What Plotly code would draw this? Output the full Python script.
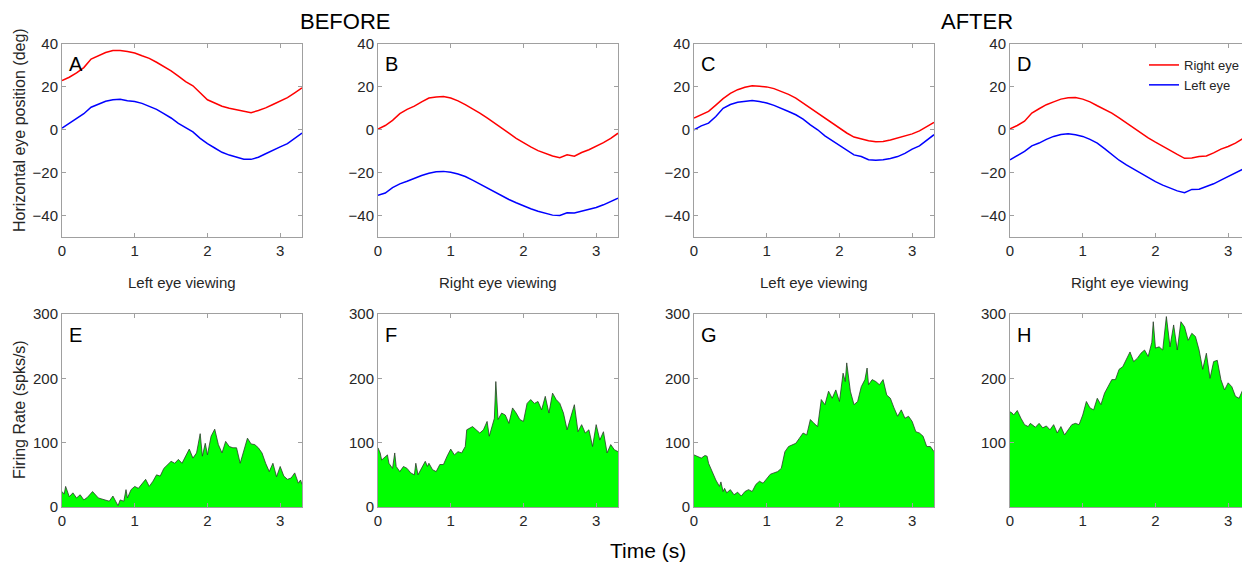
import plotly.graph_objects as go
from plotly.subplots import make_subplots

# ---------------- data ----------------
t_eye = [0.0, 0.1, 0.2, 0.3, 0.4, 0.5, 0.6, 0.7, 0.8, 0.9, 1.0, 1.1, 1.2, 1.3, 1.4, 1.5, 1.6,
         1.7, 1.8, 1.9, 2.0, 2.1, 2.2, 2.3, 2.4, 2.5, 2.6, 2.7, 2.8, 2.9, 3.0, 3.1, 3.2, 3.3]

A_right = [23, 24.5, 26.5, 29, 33, 34.5, 36, 37, 37, 36.5, 35.8, 34.5, 33.3, 31.5, 29.5, 27.5, 25,
           22.5, 20.5, 17, 14, 12.5, 11, 10, 9.3, 8.5, 8, 9, 10.2, 11.8, 13.3, 15, 17.2, 19.5]
A_left = [0.8, 3, 5, 7.5, 10.5, 12, 13.3, 14, 14.2, 13.5, 13.2, 12.3, 11, 9.5, 7.5, 5.5, 3,
          1, -1, -4, -6.5, -8.5, -10.5, -11.8, -12.8, -13.7, -13.8, -12.8, -11.2, -9.5, -8, -6.5, -4, -1.5]

B_right = [0.3, 2, 4.4, 7.5, 9.5, 11, 13, 14.8, 15.3, 15.5, 14.8, 13.5, 11.7, 9.8, 7.8, 5.5, 3,
           0.5, -1.6, -4, -6.2, -8, -9.7, -11, -12.2, -13, -11.7, -12.3, -10.6, -9.3, -7.8, -6, -4, -1.6]
B_left = [-30.5, -29.5, -27, -25.2, -24, -22.6, -21.3, -20.3, -19.6, -19.4, -19.8, -20.6, -21.8, -23.5,
          -25.3, -27.3, -29, -30.8, -32.5, -34, -35.5, -36.8, -38, -39, -39.8, -40, -38.7, -38.8, -38,
          -37.2, -36.2, -35, -33.5, -31.9]

C_right = [5.5, 7, 8.6, 11.5, 14.5, 17, 18.7, 19.8, 20.5, 20.3, 20, 19.2, 18, 16.5, 14.8, 12.5, 10.1,
           7.8, 5.5, 3, 1, -1.5, -3.4, -4.3, -5.1, -5.6, -5.5, -4.8, -3.9, -2.8, -1.9, -0.5, 1.5, 3.4]
C_left = [0, 1.8, 3.1, 6.2, 10, 11.8, 12.8, 13.4, 13.7, 13.2, 12.5, 11.4, 10.1, 8.5, 7, 5, 2.3,
          0, -2.8, -5, -7, -9.5, -11.7, -12.5, -14, -14.2, -14, -13.4, -12.5, -11, -9, -7.5, -5, -2.3]

D_right = [0.5, 2, 4, 7.8, 9.8, 11.7, 13, 14.3, 14.9, 15, 14.3, 13, 11.2, 9.5, 7.8, 5.5, 3.1,
           0.8, -1.6, -3.8, -5.8, -7.8, -9.7, -11.5, -13.3, -13.2, -12.5, -12.2, -10.8, -9, -7.8, -6.2, -4.2, -1.9]
D_left = [-14, -12, -10.1, -7.5, -6.2, -4.5, -3.1, -2.2, -1.9, -2.3, -3.1, -4.5, -6.2, -8.8, -11.7,
          -14.2, -16.4, -18.4, -20.3, -22.3, -24.2, -25.8, -27.3, -28.5, -29.3, -27.8, -27.7, -26.5,
          -25.2, -23.5, -21.8, -20, -18.4, -16]

E_t = [0, 0.03, 0.05, 0.1, 0.15, 0.2, 0.25, 0.3, 0.35, 0.42, 0.5, 0.55, 0.6, 0.65, 0.7, 0.77, 0.8,
       0.85, 0.88, 0.9, 0.95, 1.0, 1.05, 1.1, 1.15, 1.2, 1.25, 1.3, 1.35, 1.4, 1.45, 1.5, 1.55, 1.6,
       1.65, 1.7, 1.75, 1.8, 1.85, 1.9, 1.93, 1.97, 2.0, 2.05, 2.1, 2.15, 2.2, 2.25, 2.3, 2.35, 2.4,
       2.45, 2.5, 2.55, 2.6, 2.65, 2.7, 2.75, 2.8, 2.85, 2.9, 2.95, 3.0, 3.05, 3.1, 3.15, 3.2, 3.25,
       3.28, 3.3]
E_rate = [24, 20, 32, 16, 22, 14, 19, 11, 15, 24, 14, 12, 11, 9, 17, 2, 11, 9, 27, 14, 27, 32, 29,
          37, 43, 32, 40, 50, 48, 60, 66, 71, 68, 74, 68, 79, 90, 76, 84, 114, 79, 99, 81, 110, 121,
          97, 84, 102, 94, 92, 92, 68, 89, 107, 98, 97, 92, 84, 68, 55, 68, 47, 63, 48, 43, 45, 53,
          37, 42, 35]

F_t = [0, 0.03, 0.05, 0.1, 0.13, 0.15, 0.2, 0.23, 0.25, 0.3, 0.35, 0.4, 0.45, 0.5, 0.52, 0.55, 0.6,
       0.65, 0.68, 0.7, 0.75, 0.8, 0.85, 0.9, 0.95, 1.0, 1.05, 1.1, 1.15, 1.2, 1.22, 1.3, 1.35, 1.4,
       1.45, 1.5, 1.53, 1.6, 1.62, 1.65, 1.7, 1.75, 1.8, 1.85, 1.9, 1.95, 2.0, 2.05, 2.1, 2.15, 2.2,
       2.25, 2.3, 2.35, 2.4, 2.45, 2.5, 2.55, 2.6, 2.65, 2.7, 2.75, 2.8, 2.85, 2.9, 2.95, 3.0, 3.05,
       3.1, 3.15, 3.2, 3.25, 3.3]
F_rate = [92, 84, 73, 79, 81, 68, 60, 84, 63, 55, 63, 60, 53, 50, 68, 50, 60, 71, 63, 68, 58, 55,
          66, 66, 79, 90, 81, 86, 84, 94, 120, 125, 120, 115, 120, 133, 110, 138, 195, 136, 146, 143,
          130, 154, 146, 136, 133, 161, 167, 161, 164, 151, 172, 146, 177, 167, 161, 146, 120, 141,
          159, 117, 128, 115, 120, 94, 128, 104, 117, 84, 97, 89, 86]

G_t = [0, 0.05, 0.1, 0.15, 0.18, 0.2, 0.25, 0.3, 0.35, 0.37, 0.4, 0.42, 0.45, 0.5, 0.55, 0.6, 0.65,
       0.7, 0.75, 0.8, 0.85, 0.9, 0.95, 1.0, 1.05, 1.1, 1.15, 1.2, 1.25, 1.3, 1.35, 1.4, 1.45, 1.5,
       1.55, 1.6, 1.65, 1.7, 1.75, 1.8, 1.85, 1.9, 1.95, 2.0, 2.05, 2.08, 2.1, 2.15, 2.2, 2.25, 2.3,
       2.35, 2.38, 2.4, 2.45, 2.5, 2.55, 2.6, 2.65, 2.7, 2.75, 2.8, 2.85, 2.9, 2.95, 3.0, 3.05, 3.1,
       3.15, 3.2, 3.25, 3.3]
G_rate = [81, 79, 76, 80, 79, 68, 55, 42, 32, 39, 24, 29, 22, 27, 19, 23, 17, 24, 27, 24, 35, 40,
          37, 45, 51, 53, 55, 60, 86, 94, 97, 99, 107, 115, 112, 136, 130, 125, 167, 159, 180, 169,
          182, 164, 208, 195, 224, 180, 159, 164, 187, 198, 216, 190, 198, 195, 190, 198, 174, 169,
          154, 141, 151, 138, 141, 133, 117, 115, 110, 94, 94, 86]

H_t = [0, 0.03, 0.05, 0.1, 0.15, 0.2, 0.25, 0.28, 0.35, 0.4, 0.45, 0.5, 0.55, 0.6, 0.65, 0.7, 0.75,
       0.8, 0.85, 0.9, 0.95, 1.0, 1.05, 1.1, 1.15, 1.2, 1.25, 1.3, 1.35, 1.4, 1.45, 1.5, 1.55, 1.6,
       1.65, 1.7, 1.75, 1.8, 1.85, 1.9, 1.95, 1.97, 2.0, 2.05, 2.1, 2.15, 2.2, 2.25, 2.3, 2.35, 2.4,
       2.45, 2.5, 2.55, 2.6, 2.65, 2.7, 2.75, 2.8, 2.85, 2.9, 2.95, 3.0, 3.05, 3.1, 3.15, 3.2, 3.25, 3.3]
H_rate = [148, 146, 143, 150, 138, 128, 125, 130, 124, 130, 123, 126, 120, 128, 115, 125, 112, 120,
          128, 130, 128, 143, 164, 154, 151, 169, 159, 177, 187, 198, 198, 214, 218, 229, 241, 226,
          231, 239, 244, 234, 256, 288, 247, 249, 244, 296, 249, 283, 244, 288, 280, 259, 270, 265,
          244, 214, 239, 200, 226, 228, 198, 182, 193, 187, 172, 169, 182, 167, 146]

eye_panels = [("A", A_right, A_left, "Left eye viewing"),
              ("B", B_right, B_left, "Right eye viewing"),
              ("C", C_right, C_left, "Left eye viewing"),
              ("D", D_right, D_left, "Right eye viewing")]
rate_panels = [("E", E_t, E_rate), ("F", F_t, F_rate), ("G", G_t, G_rate), ("H", H_t, H_rate)]

eye_ticks = [-40, -20, 0, 20, 40]
rate_ticks = [0, 100, 200, 300]
time_ticks = [0, 1, 2, 3]

# ---------------- layout helpers ----------------
W, H = 1250, 564
OFF = 8  # page body margin in the rendered html
FONT = "Liberation Sans, Arial, sans-serif"
TXT = "#262626"


def fx(p):
    return (p - OFF) / W


def fy(p):
    return 1 - (p - OFF) / H


col_px = [(62, 302), (378, 618), (694, 934), (1010, 1250)]
top_px = (44, 237)
bot_px = (314, 507)

fig = make_subplots(rows=2, cols=4)

for i, (letter, right, left, sub) in enumerate(eye_panels):
    fig.add_trace(go.Scatter(x=t_eye, y=right, mode="lines", name="Right eye",
                             line=dict(color="#ff0000", width=1.5),
                             showlegend=(i == 3)), row=1, col=i + 1)
    fig.add_trace(go.Scatter(x=t_eye, y=left, mode="lines", name="Left eye",
                             line=dict(color="#0000ff", width=1.5),
                             showlegend=(i == 3)), row=1, col=i + 1)

for i, (letter, tt, rr) in enumerate(rate_panels):
    fig.add_trace(go.Scatter(x=tt, y=rr, mode="lines", fill="tozeroy",
                             fillcolor="#00ff00", line=dict(color="#2b3a2b", width=0.8),
                             showlegend=False), row=2, col=i + 1)

axis_common = dict(showline=True, linecolor="#a0a0a0", linewidth=1, mirror="allticks",
                   ticks="inside", ticklen=4, tickcolor="#a0a0a0", showgrid=False,
                   zeroline=False, automargin=False,
                   tickfont=dict(family=FONT, size=15, color=TXT))

for i in range(4):
    x0, x1 = col_px[i]
    dom_x = [fx(x0), min(fx(x1), 1.0)]
    for r in (1, 2):
        fig.update_xaxes(domain=dom_x, range=[0, 3.3], tickvals=time_ticks,
                         row=r, col=i + 1, **axis_common)
    fig.update_yaxes(domain=[fy(top_px[1]), fy(top_px[0])], range=[-50, 40],
                     tickvals=eye_ticks, row=1, col=i + 1, **axis_common)
    fig.update_yaxes(domain=[fy(bot_px[1]), fy(bot_px[0])], range=[0, 300],
                     tickvals=(rate_ticks if i < 3 else rate_ticks[1:]),
                     row=2, col=i + 1, **axis_common)

annotations = []
for i, (letter, right, left, sub) in enumerate(eye_panels):
    x0, x1 = col_px[i]
    annotations.append(dict(text=letter, x=fx(x0 + 5), y=fy(top_px[0] + 7), xref="paper",
                            yref="paper", xanchor="left", yanchor="top", showarrow=False,
                            font=dict(family=FONT, size=20, color="#000000")))
    annotations.append(dict(text=sub, x=fx((x0 + x1) / 2), y=fy(282), xref="paper",
                            yref="paper", xanchor="center", yanchor="middle", showarrow=False,
                            font=dict(family=FONT, size=15, color=TXT)))
for i, (letter, tt, rr) in enumerate(rate_panels):
    x0, x1 = col_px[i]
    annotations.append(dict(text=letter, x=fx(x0 + 5), y=fy(bot_px[0] + 8), xref="paper",
                            yref="paper", xanchor="left", yanchor="top", showarrow=False,
                            font=dict(family=FONT, size=20, color="#000000")))

annotations += [
    dict(text="BEFORE", x=fx(345), y=fy(22), xref="paper", yref="paper", showarrow=False,
         xanchor="center", yanchor="middle", font=dict(family=FONT, size=22, color="#000000")),
    dict(text="AFTER", x=fx(977), y=fy(22), xref="paper", yref="paper", showarrow=False,
         xanchor="center", yanchor="middle", font=dict(family=FONT, size=22, color="#000000")),
    dict(text="Time (s)", x=fx(648), y=fy(550), xref="paper", yref="paper", showarrow=False,
         xanchor="center", yanchor="middle", font=dict(family=FONT, size=21, color="#000000")),
    dict(text="Horizontal eye position (deg)", x=fx(19), y=fy(130), xref="paper", yref="paper",
         showarrow=False, textangle=-90, xanchor="center", yanchor="middle",
         font=dict(family=FONT, size=16, color=TXT)),
    dict(text="Firing Rate (spks/s)", x=fx(19), y=fy(410), xref="paper", yref="paper",
         showarrow=False, textangle=-90, xanchor="center", yanchor="middle",
         font=dict(family=FONT, size=16, color=TXT)),
]

fig.update_layout(
    width=W, height=H, margin=dict(l=0, r=0, t=0, b=0, autoexpand=False),
    paper_bgcolor="white", plot_bgcolor="white",
    annotations=annotations,
    showlegend=True,
    legend=dict(x=fx(1244), y=fy(50), xanchor="right", yanchor="top",
                bgcolor="rgba(0,0,0,0)", borderwidth=0, itemwidth=30,
                tracegroupgap=0, font=dict(family=FONT, size=13, color=TXT)),
)

fig.write_html("out.html")
